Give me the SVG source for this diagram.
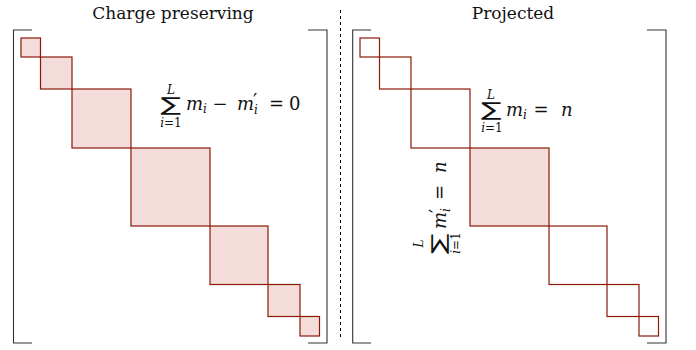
<svg xmlns="http://www.w3.org/2000/svg" width="696" height="350" viewBox="0 0 696 350">
<style>
.blk{stroke:#8a1a05;stroke-width:1.2;fill:none}
.fill{fill:#f3dcd9}
.br{fill:none;stroke:#333;stroke-width:1.1}
.t{font-family:"DejaVu Serif","Liberation Serif",serif;fill:#111}
.title{font-size:17px}
.mm{font-size:18px;font-style:italic}
.mr{font-size:18px}
.sm{font-size:12px;font-style:italic}
.smr{font-size:12px}
.pr{font-size:19px;font-family:"DejaVu Sans",sans-serif}
.sig{font-size:19px;font-family:"DejaVu Sans",sans-serif}
</style>
<rect width="696" height="350" fill="#fff"/>
<g id="titles">
<text class="t title" x="173" y="18.5" text-anchor="middle">Charge preserving</text>
<text class="t title" x="513" y="18.5" text-anchor="middle">Projected</text>
</g>
<g id="connectors">
<line x1="340.5" y1="10" x2="340.5" y2="340" stroke="#000" stroke-width="1" stroke-dasharray="3,3"/>
</g>
<g id="left-matrix">
<path class="br" d="M32,30H13.5V343H32M308,30H327V343H308"/>
<g id="L1"><rect class="blk fill" x="21" y="38" width="19.5" height="19"/></g>
<g id="L2"><rect class="blk fill" x="40.5" y="57" width="31.5" height="32"/></g>
<g id="L3"><rect class="blk fill" x="72" y="89" width="59" height="59"/></g>
<g id="L4"><rect class="blk fill" x="131" y="148" width="79" height="78"/></g>
<g id="L5"><rect class="blk fill" x="210" y="226" width="58" height="58.5"/></g>
<g id="L6"><rect class="blk fill" x="268" y="284.5" width="32" height="32"/></g>
<g id="L7"><rect class="blk fill" x="300" y="316.5" width="19.5" height="19.5"/></g>
</g>
<g id="right-matrix">
<path class="br" d="M371,30H352.7V343H371M647,30H666V343H647"/>
<g id="R1"><rect class="blk" x="360" y="38" width="19.5" height="19"/></g>
<g id="R2"><rect class="blk" x="379.5" y="57" width="31.5" height="32"/></g>
<g id="R3"><rect class="blk" x="411" y="89" width="59" height="59"/></g>
<g id="R4"><rect class="blk fill" x="470" y="148" width="79" height="78"/></g>
<g id="R5"><rect class="blk" x="549" y="226" width="58" height="58.5"/></g>
<g id="R6"><rect class="blk" x="607" y="284.5" width="32" height="32"/></g>
<g id="R7"><rect class="blk" x="639" y="316.5" width="19.5" height="19.5"/></g>
</g>
<g id="label-left">
<text class="t sm" x="171" y="94" text-anchor="middle">L</text>
<text class="t sig" text-anchor="middle" transform="translate(171,111) scale(1.6,1)">∑</text>
<text class="t smr" x="171" y="127" text-anchor="middle"><tspan font-style="italic">i</tspan>=1</text>
<text class="t mm" x="186" y="110">m</text>
<text class="t sm" x="203" y="113">i</text>
<text class="t mr" x="220" y="110" text-anchor="middle">−</text>
<text class="t mm" x="237" y="110">m</text>
<text class="t pr" x="253" y="107">′</text>
<text class="t sm" x="254" y="113.5">i</text>
<text class="t mr" x="276.5" y="110" text-anchor="middle">=</text>
<text class="t mr" x="289" y="110">0</text>
</g>
<g id="label-right">
<text class="t sm" x="491" y="99" text-anchor="middle">L</text>
<text class="t sig" text-anchor="middle" transform="translate(491.5,116) scale(1.6,1)">∑</text>
<text class="t smr" x="492" y="132" text-anchor="middle"><tspan font-style="italic">i</tspan>=1</text>
<text class="t mm" x="506" y="116">m</text>
<text class="t sm" x="523" y="119">i</text>
<text class="t mr" x="541" y="116" text-anchor="middle">=</text>
<text class="t mm" x="561" y="116">n</text>
</g>
<g id="label-rotated" transform="translate(446,256) rotate(-90)">
<text class="t sm" x="12.5" y="-23" text-anchor="middle">L</text>
<text class="t sig" text-anchor="middle" transform="translate(12.5,-1) scale(1.6,1)">∑</text>
<text class="t smr" x="13" y="14" text-anchor="middle"><tspan font-style="italic">i</tspan>=1</text>
<text class="t mm" x="27" y="0">m</text>
<text class="t pr" x="43" y="-3">′</text>
<text class="t sm" x="44" y="3.5">i</text>
<text class="t mr" x="63.5" y="0" text-anchor="middle">=</text>
<text class="t mm" x="83" y="0">n</text>
</g>
</svg>
